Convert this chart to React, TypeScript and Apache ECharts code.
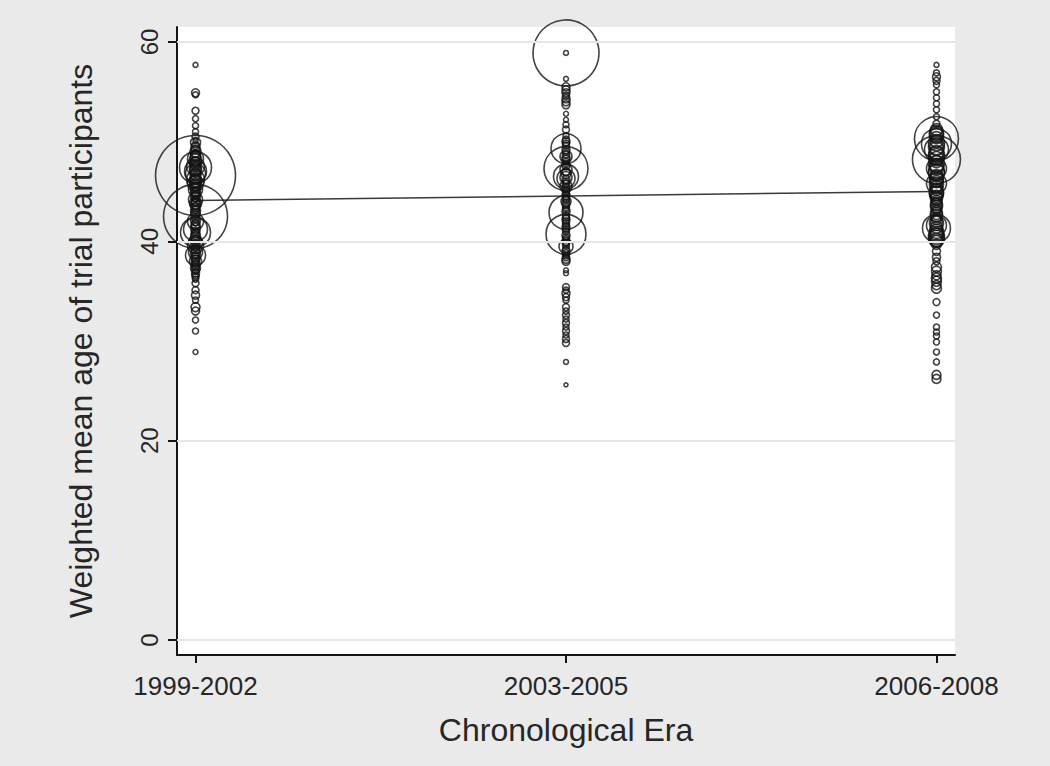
import React, { useEffect, useRef } from "react";
import * as echarts from "echarts";

const categories = ["1999-2002", "2003-2005", "2006-2008"];
const yTicks = [0, 20, 40, 60];
const xTicks = [1, 2, 3];

// Era 1999-2002: weighted mean ages and weights (bubble area)
const era1Ages = [
  57.7, 54.9, 54.7, 53.1, 52.3, 51.6, 51.0, 50.5, 50.1,
  46.6, 42.5,
  47.4, 40.9, 41.2, 38.6, 47.0, 46.2, 45.2, 48.3, 43.8, 44.8, 39.6, 38.0, 37.3,
  47.5, 46.8, 45.8, 44.2, 42.0, 39.9, 38.9,
  49.6, 49.2, 48.8, 48.5, 48.0, 47.7, 47.3, 46.9, 46.5, 46.1, 45.8, 45.5, 45.0, 44.6, 44.3, 43.9,
  43.5, 43.2, 42.8, 42.3, 41.9, 41.5, 41.0, 40.6, 40.2, 39.8, 39.4, 39.0, 38.6, 38.2, 37.8, 37.4,
  37.0, 36.6, 36.2, 35.8,
  49.9, 49.4, 49.0, 48.6, 48.2, 47.9, 47.5, 47.1, 46.7, 46.3, 46.0, 45.6, 45.3, 44.9, 44.5, 44.1,
  43.7, 43.4, 43.0, 42.6, 42.1, 41.7, 41.3, 40.8, 40.4, 40.0, 39.6, 39.2, 38.8, 38.4, 38.0, 37.6,
  37.2, 36.8, 36.4,
  35.1, 34.6, 34.1, 33.4, 33.0, 32.1, 31.0, 28.9,
];
const era1Weights = [
  6, 16, 9, 12, 9, 9, 9, 12, 6,
  1600, 1024,
  256, 225, 144, 100, 121, 81, 49, 64, 36, 25, 64, 36, 25,
  81, 100, 64, 49, 64, 49, 49,
  16, 20, 16, 25, 20, 25, 36, 25, 20, 36, 25, 16, 20, 16, 12, 16,
  12, 16, 20, 16, 12, 20, 16, 20, 16, 12, 16, 20, 12, 16, 12, 12,
  9, 12, 9, 12,
  25, 20, 30, 25, 36, 30, 25, 36, 30, 25, 36, 30, 25, 20, 25, 20,
  25, 20, 25, 20, 25, 20, 25, 20, 25, 20, 25, 20, 25, 20, 16, 20,
  16, 16, 12,
  12, 16, 9, 20, 16, 9, 9, 6,
];

// Era 2003-2005
const era2Ages = [
  58.9, 58.9, 56.3,
  55.5, 55.2, 54.9, 54.6, 54.3, 54.0, 53.7,
  52.8, 52.2, 51.7, 51.2, 50.6,
  49.3, 47.3, 46.5, 46.3, 42.9, 40.7, 45.5, 44.0, 39.5, 48.5,
  50.2, 49.8, 49.0, 48.2, 47.8, 47.0, 46.0, 45.2, 44.8, 44.4, 43.6, 43.2, 42.4, 42.0, 41.6, 41.2,
  40.2, 39.8, 39.2, 38.8, 38.4, 38.0,
  50.0, 49.6, 49.2, 48.7, 48.4, 48.0, 47.6, 47.2, 46.8, 46.4, 46.2, 45.8, 45.4, 45.0, 44.6, 44.2,
  43.8, 43.4, 43.0, 42.6, 42.2, 41.8, 41.4, 41.0, 40.6, 40.4, 40.0, 39.6, 39.0, 38.6, 38.2,
  37.1, 36.8,
  35.4, 35.1, 34.8, 34.4, 34.1,
  33.4, 33.0, 32.6, 32.2, 31.8, 31.4, 31.0, 30.6, 30.2, 29.8,
  27.9, 25.6,
];
const era2Weights = [
  1089, 6, 6,
  16, 16, 16, 12, 16, 16, 16,
  6, 6, 9, 12, 9,
  225, 484, 156, 81, 289, 400, 36, 25, 49, 36,
  12, 12, 12, 16, 12, 16, 12, 12, 12, 12, 12, 12, 12, 12, 12, 12,
  12, 12, 12, 12, 12, 16,
  16, 12, 16, 12, 16, 12, 16, 36, 25, 36, 16, 12, 16, 12, 16, 12,
  16, 12, 16, 12, 16, 12, 16, 12, 16, 12, 16, 12, 16, 12, 16,
  6, 6,
  12, 9, 16, 12, 9,
  12, 9, 12, 9, 12, 9, 12, 9, 12, 12,
  6, 4,
];

// Era 2006-2008
const era3Ages = [
  57.7, 56.9, 56.5, 56.1, 55.7, 55.0, 54.4, 53.8, 53.2, 52.5, 51.8,
  50.3, 48.2,
  49.8, 49.2, 47.3, 45.8, 44.8, 41.3, 41.6, 40.6, 50.9,
  51.2, 50.6, 50.0, 49.5, 48.9, 48.5, 48.0, 47.6, 47.0, 46.6, 46.2, 45.5, 45.0, 44.5, 44.1, 43.7,
  43.3, 42.8, 42.4, 42.0, 41.0, 40.3, 40.0, 39.7,
  50.8, 50.4, 49.9, 49.3, 48.7, 48.3, 47.8, 47.4, 46.9, 46.4, 46.0, 45.7, 45.2, 44.8, 44.3, 43.9,
  43.5, 43.1, 42.6, 42.2, 41.8, 41.4, 40.8, 40.5, 40.1,
  39.0, 38.4, 38.0,
  37.4, 37.0, 36.6, 36.3, 36.0, 35.6, 35.3,
  33.9, 32.6, 31.4, 30.9, 30.5, 29.9, 28.9, 27.9, 26.6, 26.2,
];
const era3Weights = [
  6, 9, 16, 12, 9, 9, 9, 9, 9, 9, 12,
  484, 576,
  225, 144, 100, 100, 49, 196, 100, 49, 49,
  36, 49, 36, 64, 49, 64, 36, 49, 64, 36, 49, 36, 49, 36, 25, 36,
  25, 36, 25, 36, 49, 64, 36, 25,
  49, 36, 64, 49, 64, 49, 64, 49, 64, 49, 36, 49, 36, 49, 36, 25,
  36, 25, 36, 25, 49, 36, 49, 64, 49,
  16, 16, 12,
  25, 25, 20, 25, 25, 20, 25,
  12, 9, 9, 9, 9, 9, 9, 9, 20, 20,
];

// Linear fit: predicted age at first and last era
const fitEras = [1, 3];
const fitAges = [44.1, 45.0];

const FONT = "'Liberation Sans', Arial, Helvetica, sans-serif";
const TEXT = "#262626";
const INK = "#141414";

export default function App() {
  const ref = useRef<HTMLDivElement>(null);

  useEffect(() => {
    if (!ref.current) return;
    const chart = echarts.init(ref.current, undefined, { renderer: "svg" });

    const eras = [
      { ages: era1Ages, weights: era1Weights },
      { ages: era2Ages, weights: era2Weights },
      { ages: era3Ages, weights: era3Weights },
    ];

    const scatterSeries = eras.map((e, i) => ({
      type: "scatter",
      z: 3,
      symbol: "circle",
      data: e.ages.map((a, j) => [i + 1, a, e.weights[j]]),
      symbolSize: (v: number[]) => Math.sqrt(v[2]) * 2,
      itemStyle: { color: "rgba(0,0,0,0)", borderColor: "#141414", borderWidth: 1.6 },
      emphasis: { disabled: true },
      silent: true,
    }));

    chart.setOption({
      animation: false,
      backgroundColor: "#eaeaea",
      grid: {
        left: 177,
        right: 95,
        top: 27,
        bottom: 111,
        show: true,
        backgroundColor: "#ffffff",
        borderWidth: 0,
      },
      xAxis: {
        type: "value",
        min: 0.95,
        max: 3.05,
        axisLine: { show: true, onZero: false, lineStyle: { color: INK, width: 2 } },
        axisTick: { show: true, customValues: xTicks, length: 8, lineStyle: { color: INK, width: 2 } },
        axisLabel: {
          customValues: xTicks,
          formatter: (v: number) => categories[Math.round(v) - 1] ?? "",
          fontSize: 26,
          color: TEXT,
          fontFamily: FONT,
          margin: 18,
        },
        splitLine: { show: false },
        name: "Chronological Era",
        nameLocation: "middle",
        nameGap: 59,
        nameTextStyle: { fontSize: 32, color: TEXT, fontFamily: FONT },
      },
      yAxis: {
        type: "value",
        min: -1.5,
        max: 61.5,
        axisLine: { show: true, onZero: false, lineStyle: { color: INK, width: 2 } },
        axisTick: { show: true, customValues: yTicks, length: 9, lineStyle: { color: INK, width: 2 } },
        axisLabel: {
          customValues: yTicks,
          rotate: 90,
          fontSize: 24,
          color: TEXT,
          fontFamily: FONT,
          margin: 16,
        },
        splitLine: { show: false },
        name: "Weighted mean age of trial participants",
        nameLocation: "middle",
        nameRotate: 90,
        nameGap: 80,
        nameTextStyle: { fontSize: 32, color: TEXT, fontFamily: FONT },
      },
      series: [
        {
          type: "line",
          z: 2,
          data: fitEras.map((x, i) => [x, fitAges[i]]),
          symbol: "none",
          lineStyle: { color: "#3a3a3a", width: 1.5 },
          silent: true,
          markLine: {
            silent: true,
            symbol: ["none", "none"],
            label: { show: false },
            lineStyle: { color: "#e6e6e6", width: 2, type: "solid" },
            data: yTicks.map((v) => ({ yAxis: v })),
            animation: false,
          },
        },
        ...scatterSeries,
      ],
    });

    return () => chart.dispose();
  }, []);

  return (
    <div
      ref={ref}
      style={{ position: "absolute", left: 0, top: 0, width: 1050, height: 766 }}
    />
  );
}
